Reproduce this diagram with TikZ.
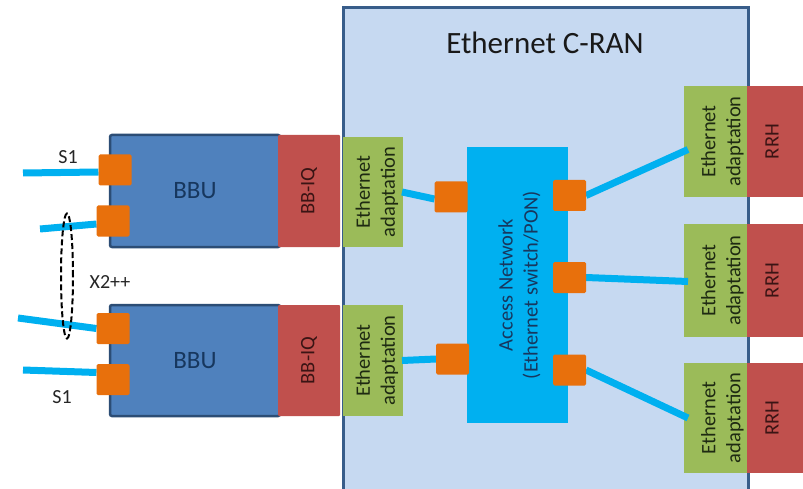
\documentclass[tikz,border=0pt]{standalone}
\usepackage{fontspec}
\setmainfont{Carlito}
\usetikzlibrary{shapes.geometric}
\definecolor{cranfill}{HTML}{C6D9F1}
\definecolor{cranedge}{HTML}{385D8A}
\definecolor{bbufill}{HTML}{4F81BD}
\definecolor{bbuedge}{HTML}{2C4D75}
\definecolor{redbox}{HTML}{C0504D}
\definecolor{greenbox}{HTML}{9BBB59}
\definecolor{cyanbox}{HTML}{00B0F0}
\definecolor{portc}{HTML}{E8700C}
\definecolor{navytext}{HTML}{17375E}
\definecolor{darktext}{HTML}{1E2A12}
\definecolor{redtext}{HTML}{3A1414}
\pgfdeclarelayer{bg}
\pgfdeclarelayer{fg}
\pgfsetlayers{bg,main,fg}
\begin{document}
\begin{tikzpicture}[x=1pt,y=-1pt,
  sz/.style 2 args={minimum width=#1pt, minimum height=#2pt},
  plain/.style={inner sep=0pt, outer sep=0pt},
  cranbox/.style={plain, fill=cranfill, draw=cranedge, line width=3pt},
  bbubox/.style={plain, fill=bbufill, draw=bbuedge, line width=2.5pt, rounded corners=2pt,
     text=navytext, font=\fontsize{25}{28}\selectfont},
  iqbox/.style={plain, fill=redbox, rounded corners=1pt},
  eabox/.style={plain, fill=greenbox},
  accbox/.style={plain, fill=cyanbox},
  port/.style={plain, fill=portc, rounded corners=1.5pt, sz={33}{31}},
  vtext/.style={rotate=90, align=center, inner sep=0pt, font=\fontsize{20.5}{25}\selectfont},
  link/.style={draw=cyanbox, line width=7pt},
  lbl/.style={inner sep=0pt, font=\fontsize{20}{24}\selectfont, text=black!85}]
\useasboundingbox (0,0) rectangle (803,489);
\clip (0,0) rectangle (803,489);

\begin{pgfonlayer}{bg}
\fill[white] (0,0) rectangle (803,489);
% C-RAN container
\node[cranbox, sz={405}{510}] (cran) at (545.5,263) {};
\node[inner sep=0pt, font=\fontsize{31}{36}\selectfont, text=black!90] (title) at (545,43) {Ethernet C-RAN};

% BBUs
\node[bbubox, sz={170}{112}] (bbu1) at (195,191) {BBU};
\node[iqbox, sz={62}{112}] (iq1) at (309,191) {};
\node[vtext, text=redtext] (iq1t) at (iq1.center) {BB-IQ};
\node[bbubox, sz={170}{111}] (bbu2) at (195,360.5) {BBU};
\node[iqbox, sz={62}{111}] (iq2) at (309,360.5) {};
\node[vtext, text=redtext] (iq2t) at (iq2.center) {BB-IQ};

% Ethernet adaptation (left)
\node[eabox, sz={60}{110}] (ea1) at (373,192) {};
\node[vtext, text=darktext] (ea1t) at ([xshift=4pt]ea1.center) {Ethernet\\adaptation};
\node[eabox, sz={60}{111}] (ea2) at (373,360.5) {};
\node[vtext, text=darktext] (ea2t) at ([xshift=4pt]ea2.center) {Ethernet\\adaptation};

% Access network
\node[accbox, sz={101}{276}] (acc) at (517.5,285) {};
\node[vtext, text=navytext] (acct) at ([xshift=2pt]acc.center) {Access Network\\(Ethernet switch/PON)};

% Right side: Ethernet adaptation + RRH
\node[eabox, sz={63}{111}] (ear1) at (715.5,141.5) {};
\node[vtext, text=darktext] (ear1t) at ([xshift=7pt]ear1.center) {Ethernet\\adaptation};
\node[iqbox, sz={60}{111}, rounded corners=0pt] (rrh1) at (777,141.5) {};
\node[vtext, text=redtext] (rrh1t) at ([xshift=-5pt]rrh1.center) {RRH};

\node[eabox, sz={63}{113}] (ear2) at (715.5,280.5) {};
\node[vtext, text=darktext] (ear2t) at ([xshift=7pt]ear2.center) {Ethernet\\adaptation};
\node[iqbox, sz={60}{113}, rounded corners=0pt] (rrh2) at (777,280.5) {};
\node[vtext, text=redtext] (rrh2t) at ([xshift=-5pt]rrh2.center) {RRH};

\node[eabox, sz={63}{110}] (ear3) at (715.5,418) {};
\node[vtext, text=darktext] (ear3t) at ([xshift=7pt]ear3.center) {Ethernet\\adaptation};
\node[iqbox, sz={60}{110}, rounded corners=0pt] (rrh3) at (777,418) {};
\node[vtext, text=redtext] (rrh3t) at ([xshift=-5pt]rrh3.center) {RRH};
\end{pgfonlayer}

\begin{pgfonlayer}{fg}
% ports on BBUs
\node[port] (p1) at (115,170) {};
\node[port] (p2) at (113,221) {};
\node[port] (p3) at (113,328.5) {};
\node[port] (p4) at (113,379.5) {};
% ports on access network
\node[port] (pA) at (451,197) {};
\node[port] (pE) at (452.5,359) {};
\node[port] (pB) at (569.5,195.5) {};
\node[port] (pC) at (569.5,277.5) {};
\node[port] (pD) at (569.5,370) {};
\end{pgfonlayer}

% free ends of the external links
\coordinate (l1) at (23,173);
\coordinate (l2) at (40,229);
\coordinate (l3) at (18,318);
\coordinate (l4) at (23,370);

% links
\draw[link] (l1) -- ([yshift=-2pt]p1.west);
\draw[link] (l2) -- ([yshift=-3pt]p2.west);
\draw[link] (l3) -- (p3.west);
\draw[link] (l4) -- ([yshift=7pt]p4.west);
\draw[link] ([xshift=-1pt]ea1.east) -- ([yshift=-2pt]pA.west);
\draw[link] ([xshift=-1pt]ea2.east) -- (pE.west);
\draw[link] (pB.east) -- ([xshift=4pt,yshift=-8pt]ear1.west);
\draw[link] (pC.east) -- ([xshift=4pt,yshift=-1pt]ear2.west);
\draw[link] (pD.east) -- ([xshift=4pt]ear3.west);

% X2++ grouping ellipse
\node[ellipse, draw=black, dash pattern=on 6pt off 3pt, line width=2pt, sz={12}{125}, inner sep=0pt] (x2) at (67,276) {};

% labels
\node[lbl] (s1a) at (68,157) {S1};
\node[lbl] (s1b) at (62,397) {S1};
\node[lbl] (x2t) at (110,282) {X2++};
\end{tikzpicture}
\end{document}
